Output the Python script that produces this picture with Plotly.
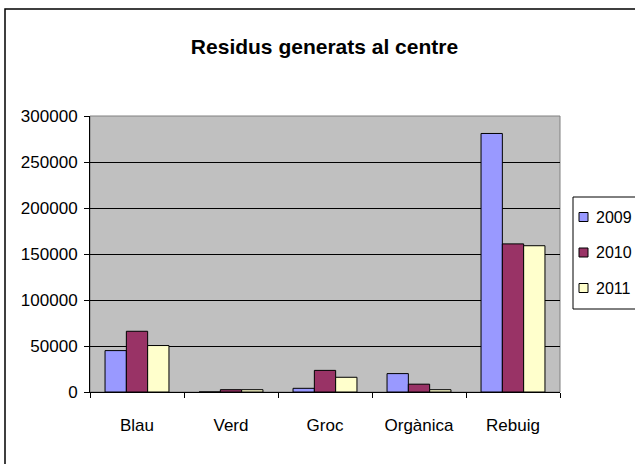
"""Residus generats al centre - grouped bar chart (Excel style)."""

import plotly.graph_objects as go

CATEGORIES = ["Blau", "Verd", "Groc", "Orgànica", "Rebuig"]
YEARS = ["2009", "2010", "2011"]
VALUES_2009 = [45000, 0, 4000, 20000, 281000]
VALUES_2010 = [66000, 2500, 23500, 8500, 161000]
VALUES_2011 = [50500, 2500, 16000, 2500, 159000]
Y_TICKS = [0, 50000, 100000, 150000, 200000, 250000, 300000]

COLORS = ["#9999FF", "#993366", "#FFFFCC"]
FONT = "Liberation Sans, Arial, sans-serif"

WIDTH, HEIGHT = 635, 464
PLOT_L, PLOT_R, PLOT_T, PLOT_B = 90, 560, 116, 392


def px_x(x: float) -> float:
    return (x - PLOT_L) / (PLOT_R - PLOT_L)


def px_y(y: float) -> float:
    return (PLOT_B - y) / (PLOT_B - PLOT_T)


fig = go.Figure()
for year, values, color in zip(YEARS, [VALUES_2009, VALUES_2010, VALUES_2011], COLORS):
    fig.add_trace(
        go.Bar(
            x=CATEGORIES,
            y=values,
            name=year,
            marker={"color": color, "line": {"color": "black", "width": 1}},
            showlegend=False,
        )
    )

shapes = [
    # plot area border
    {"type": "rect", "xref": "paper", "yref": "paper", "x0": 0, "x1": 1, "y0": 0, "y1": 1,
     "line": {"color": "#808080", "width": 1}, "layer": "below"},
    # chart border (right and bottom edges fall outside the picture)
    {"type": "rect", "xref": "paper", "yref": "paper",
     "x0": px_x(5), "x1": px_x(645), "y0": px_y(475), "y1": px_y(9),
     "line": {"color": "black", "width": 1.5}},
    # legend box
    {"type": "rect", "xref": "paper", "yref": "paper",
     "x0": px_x(573), "x1": px_x(645), "y0": px_y(309), "y1": px_y(197),
     "line": {"color": "black", "width": 1}, "fillcolor": "white"},
]
annotations = []
for index, (year, color) in enumerate(zip(YEARS, COLORS)):
    center = 217 + index * 35.5
    shapes.append(
        {"type": "rect", "xref": "paper", "yref": "paper",
         "x0": px_x(579), "x1": px_x(588), "y0": px_y(center + 4.5), "y1": px_y(center - 4.5),
         "line": {"color": "black", "width": 1}, "fillcolor": color}
    )
    annotations.append(
        {"text": year, "xref": "paper", "yref": "paper", "x": px_x(594), "y": px_y(center),
         "xanchor": "left", "yanchor": "middle", "showarrow": False,
         "font": {"size": 16, "color": "black", "family": FONT}}
    )

fig.update_layout(
    width=WIDTH,
    height=HEIGHT,
    barmode="group",
    bargap=0.32,
    bargroupgap=0,
    paper_bgcolor="white",
    plot_bgcolor="#C0C0C0",
    font={"family": FONT, "color": "black", "size": 17},
    title={
        "text": "<b>Residus generats al centre</b>",
        "x": px_x(324.5),
        "xref": "paper",
        "xanchor": "center",
        "y": 1 - 47 / HEIGHT,
        "yanchor": "middle",
        "font": {"size": 21, "family": FONT, "color": "black"},
    },
    xaxis={
        "type": "category",
        "showline": True,
        "linecolor": "black",
        "linewidth": 1,
        "ticks": "outside",
        "tickson": "boundaries",
        "ticklen": 5,
        "tickcolor": "black",
        "showgrid": False,
        "tickfont": {"size": 17},
        "ticklabelstandoff": 18,
    },
    yaxis={
        "range": [0, 300000],
        "tickvals": Y_TICKS,
        "tickformat": "d",
        "showline": True,
        "linecolor": "black",
        "linewidth": 1,
        "ticks": "outside",
        "ticklen": 5,
        "tickcolor": "black",
        "showgrid": True,
        "gridcolor": "black",
        "gridwidth": 1,
        "zeroline": False,
        "tickfont": {"size": 17},
        "ticklabelstandoff": 3,
    },
    shapes=shapes,
    annotations=annotations,
    margin={"l": PLOT_L, "r": WIDTH - PLOT_R, "t": PLOT_T, "b": HEIGHT - PLOT_B},
)

# drop the browser's default page margin so the figure fills the window
fig.write_html(
    "out.html",
    config={"displayModeBar": False},
    post_script="document.body.style.margin='0';document.body.style.overflow='hidden';",
)
